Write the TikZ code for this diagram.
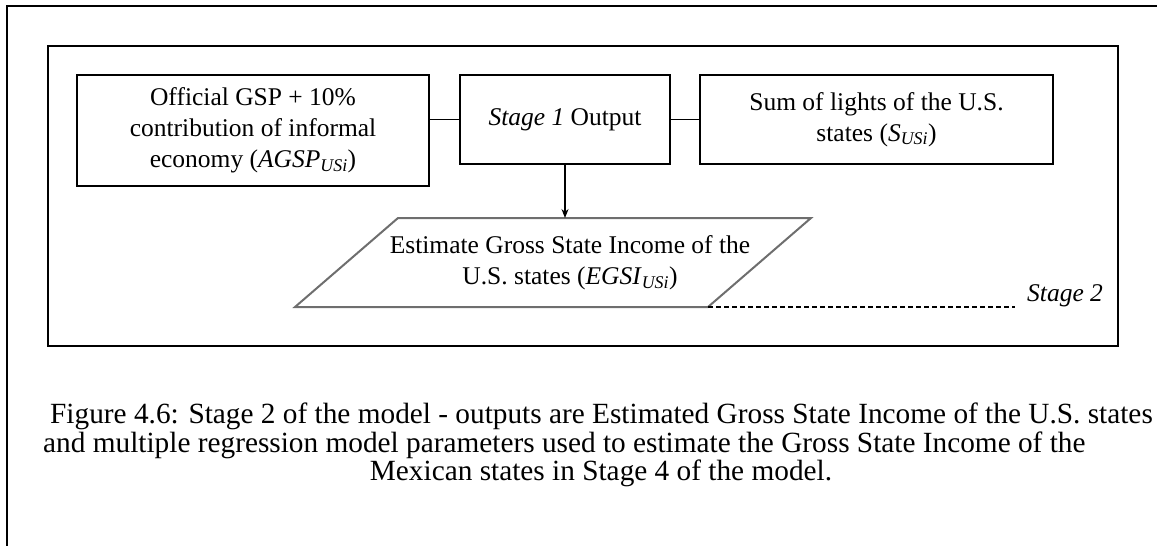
\documentclass[tikz,border=0pt]{standalone}
\usepackage{fontspec}
\setmainfont{Liberation Serif}
\usetikzlibrary{positioning,arrows.meta}
\definecolor{pgray}{HTML}{6e6e6e}
\newcommand{\vsub}[2]{\textit{#1}\textsubscript{\textit{#2}}}

\begin{document}
\begin{tikzpicture}[x=1pt, y=-1pt,
    box/.style={draw=black, line width=1.3pt, inner sep=0pt, align=center,
      font=\fontsize{25.5}{31}\selectfont},
    label/.style={inner sep=0pt, align=center, font=\fontsize{25.5}{31}\selectfont},
    link/.style={black, line width=1.3pt},
    caption/.style={inner sep=0pt, font=\fontsize{29.3}{29}\selectfont}]
  \useasboundingbox (0,0) rectangle (1157,546);
  % frames
  \draw[line width=2.4pt] (7,546) -- (7,6) -- (1157,6);
  \draw[line width=1.6pt] (48,46) rectangle (1118,346);
  % inputs and stage 1 output
  \node[box, minimum width=352pt, minimum height=111pt] (gsp) at (253,130.5)
    {Official GSP + 10\%\\contribution of informal\\economy (\vsub{AGSP}{USi})};
  \node[box, minimum width=210pt, minimum height=89pt] (out) at (565,119.5)
    {\textit{Stage 1} Output};
  \node[box, minimum width=353pt, minimum height=89pt] (sum) at (876.5,119.5)
    {Sum of lights of the U.S.\\states (\vsub{S}{USi})};
  \draw[link] (out.west) -- (out.west -| gsp.east);
  \draw[link] (out.east) -- (sum.west);
  % estimate
  \coordinate (pbl) at (295,307);
  \coordinate (pbr) at (708,307);
  \coordinate (ptr) at (811,218);
  \coordinate (ptl) at (398,218);
  \draw[pgray, line width=2pt] (pbl) -- (pbr) -- (ptr) -- (ptl) -- cycle;
  \node[label] (egsi) at (570,263)
    {Estimate Gross State Income of the\\U.S. states (\vsub{EGSI}{USi})};
  \draw[link, -{Stealth[length=9pt, width=7pt]}] (out.south) -- (out.south |- ptl);
  % stage 2 marker
  \coordinate (dend) at (1015,307);
  \draw[black, line width=1.2pt, dash pattern=on 5pt off 3pt] (pbr) -- (dend);
  \node[label, anchor=base west] (stage) at (1027,301) {\textit{Stage 2}};
  % caption
  \node[caption, anchor=base west] (cap1) at (50,423)
    {Figure 4.6: Stage 2 of the model - outputs are Estimated Gross State Income of the U.S. states};
  \node[caption, anchor=base west] (cap2) at (43,452)
    {and multiple regression model parameters used to estimate the Gross State Income of the};
  \node[caption, anchor=base] (cap3) at (601,480)
    {Mexican states in Stage 4 of the model.};
\end{tikzpicture}
\end{document}
